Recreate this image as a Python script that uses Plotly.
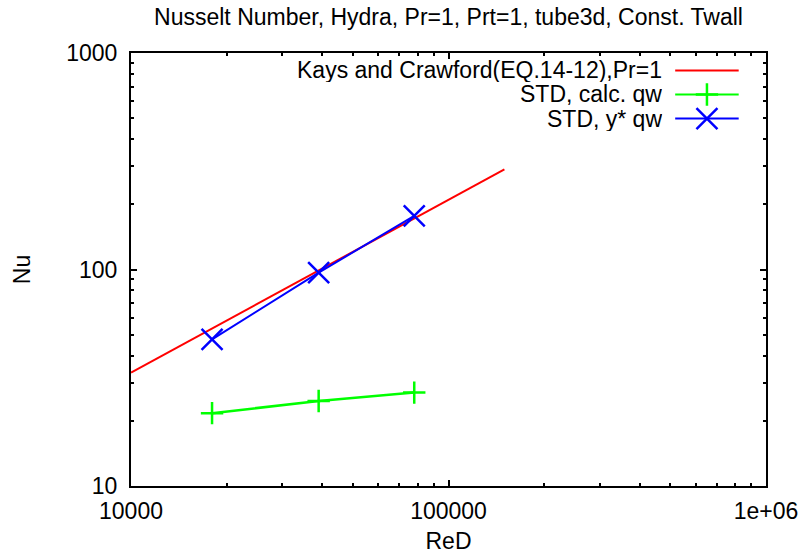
import plotly.graph_objects as go

# ---- data ----
re_kays = [10000, 50000, 150000]
nu_kays = [33.4, 121.0, 290.0]

re_std = [18000, 39000, 78000]
nu_calc = [21.7, 24.7, 27.0]
nu_ystar = [47.6, 96.7, 177.0]

x_major = [1e4, 1e5, 1e6]
x_major_text = ["10000", "100000", "1e+06"]
y_major = [10, 100, 1000]
y_major_text = ["10", "100", "1000"]

legend_names = ["Kays and Crawford(EQ.14-12),Pr=1", "STD, calc. qw", "STD, y* qw"]
colors = ["#ff0000", "#00ff00", "#0000ff"]

FONT = "Liberation Sans"
FS = 23

x_minor = [m * d for d in (1e4, 1e5) for m in range(2, 10)]
y_minor = [m * d for d in (10, 100) for m in range(2, 10)]

fig = go.Figure()
fig.add_trace(go.Scatter(x=re_kays, y=nu_kays, mode="lines",
                         line=dict(color=colors[0], width=2), showlegend=False))
fig.add_trace(go.Scatter(x=re_std, y=nu_calc, mode="lines+markers",
                         line=dict(color=colors[1], width=2.5),
                         marker=dict(symbol="cross-thin", size=16,
                                     line=dict(color=colors[1], width=2.5)),
                         showlegend=False))
fig.add_trace(go.Scatter(x=re_std, y=nu_ystar, mode="lines+markers",
                         line=dict(color=colors[2], width=2),
                         marker=dict(symbol="x-thin", size=21,
                                     line=dict(color=colors[2], width=2.5)),
                         showlegend=False))

# ---- gnuplot-style legend (key samples on right of right-aligned text) ----
row_y = [0.9596, 0.9042, 0.8487]
symbols = [None, ("cross-thin", 16), ("x-thin", 21)]
for i, name in enumerate(legend_names):
    fig.add_trace(go.Scatter(x=[0.857, 0.957], y=[row_y[i], row_y[i]], mode="lines",
                             line=dict(color=colors[i], width=2),
                             xaxis="x2", yaxis="y2", showlegend=False, hoverinfo="skip"))
    if symbols[i]:
        fig.add_trace(go.Scatter(x=[0.907], y=[row_y[i]], mode="markers",
                                 marker=dict(symbol=symbols[i][0], size=symbols[i][1],
                                             line=dict(color=colors[i], width=2.5)),
                                 xaxis="x2", yaxis="y2", showlegend=False, hoverinfo="skip"))
    fig.add_annotation(x=0.838, y=row_y[i], xref="paper", yref="paper",
                       text=name, showarrow=False, xanchor="right", yanchor="middle",
                       height=24, borderpad=0,
                       font=dict(family=FONT, size=FS, color="black"))

axis_common = dict(showline=True, linecolor="black", linewidth=2, mirror="ticks",
                   ticks="inside", ticklen=6, tickwidth=1.5, tickcolor="black",
                   showgrid=False, zeroline=False, automargin=False,
                   tickfont=dict(family=FONT, size=FS, color="black"))

fig.update_layout(
    width=803, height=554,
    margin=dict(l=131, r=37, t=53, b=68),
    paper_bgcolor="white", plot_bgcolor="white",
    font=dict(family=FONT, size=FS, color="black"),
    title=dict(text="Nusselt Number, Hydra, Pr=1, Prt=1, tube3d, Const. Twall",
               x=0.5, xref="paper", y=1 - 17 / 554, yref="container",
               xanchor="center", yanchor="middle",
               font=dict(family=FONT, size=FS, color="black")),
    xaxis=dict(type="log", range=[4, 6], tickmode="array",
               tickvals=x_major, ticktext=x_major_text, ticklabelstandoff=3,
               title=dict(text="ReD", standoff=14, font=dict(family=FONT, size=FS)),
               minor=dict(tickmode="array", tickvals=x_minor, ticks="inside",
                          ticklen=3, tickwidth=1.5, tickcolor="black", showgrid=False),
               **axis_common),
    yaxis=dict(type="log", range=[1, 3], tickmode="array",
               tickvals=y_major, ticktext=y_major_text, ticklabelstandoff=7,
               title=dict(text="Nu", standoff=29, font=dict(family=FONT, size=FS)),
               minor=dict(tickmode="array", tickvals=y_minor, ticks="inside",
                          ticklen=3, tickwidth=1.5, tickcolor="black", showgrid=False),
               **axis_common),
    xaxis2=dict(range=[0, 1], overlaying="x", visible=False, fixedrange=True),
    yaxis2=dict(range=[0, 1], overlaying="y", visible=False, fixedrange=True),
)

fig.write_html("out.html")
